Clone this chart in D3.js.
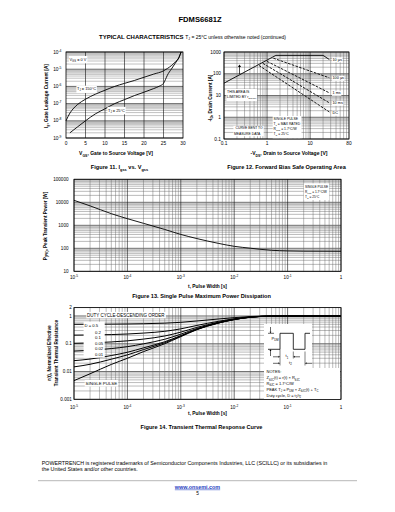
<!DOCTYPE html>
<html><head><meta charset="utf-8">
<script src="https://cdn.jsdelivr.net/npm/d3@7"></script>
<style>body{margin:0;background:#fff}svg{display:block;font-family:"Liberation Sans",Arial,Helvetica,sans-serif}</style>
</head><body><script>
// ---------- DATA ----------
// Figure 11: Igss vs Vgss
const f11Vgs150 = [0, 1, 2, 3, 5, 7.5, 10, 12.5, 15, 17.5, 20, 22.5, 25, 26, 27, 28, 29, 29.5];
const f11Ig150  = [1.0e-8, 2.8e-8, 5.5e-8, 9e-8, 1.8e-7, 3.5e-7, 6e-7, 1e-6, 1.5e-6, 2.2e-6, 3.4e-6, 5.2e-6, 8e-6, 1.1e-5, 1.6e-5, 2.6e-5, 5e-5, 1e-4];
const f11Vgs25  = [1, 2, 3, 5, 7.5, 10, 12.5, 15, 17.5, 20, 22.5, 24, 25, 25.5, 26, 27, 28, 29, 29.5];
const f11Ig25   = [2e-9, 3e-9, 4.5e-9, 1e-8, 2.5e-8, 5e-8, 1e-7, 1.7e-7, 2.9e-7, 4.6e-7, 7.5e-7, 1.05e-6, 1.5e-6, 2.5e-6, 4.5e-6, 1e-5, 2.2e-5, 5e-5, 1e-4];
const f11XTicks = [0, 5, 10, 15, 20, 25, 30];
const f11YTicks = [1e-9, 1e-8, 1e-7, 1e-6, 1e-5, 1e-4];
const f11YTickExp = ["-9", "-8", "-7", "-6", "-5", "-4"];

// Figure 12: Forward bias SOA
const f12Labels = ["10 \u00b5s", "100 \u00b5s", "1 ms", "10 ms", "DC"];
const f12V = [[0.1, 1.6, 20, 28], [1.4, 28], [1.0, 28], [0.8, 28], [0.65, 28]];
const f12I = [[37, 700, 700, 450], [520, 65], [370, 13.2], [300, 4.6], [240, 1.75]];
const f12XTicks = [0.1, 1, 10, 80];
const f12XTickText = ["0.1", "1", "10", "80"];
const f12YTicks = [0.1, 1, 10, 100, 1000];
const f12YTickText = ["0.1", "1", "10", "100", "1000"];

// Figure 13: single pulse max power
const f13T = [1e-5, 2e-5, 5e-5, 1e-4, 2e-4, 5e-4, 1e-3, 2e-3, 5e-3, 1e-2, 2e-2, 3e-2, 5e-2, 1e-1, 2e-1, 1];
const f13P = [12200, 7000, 3200, 1940, 1220, 660, 400, 265, 165, 122, 101, 91, 82, 77, 75, 74];
const f13XTicks = [1e-5, 1e-4, 1e-3, 1e-2, 1e-1, 1];
const f13XTickExp = ["-5", "-4", "-3", "-2", "-1", null];
const f13YTicks = [10, 100, 1000, 10000, 100000];
const f13YTickText = ["10", "100", "1000", "10000", "100000"];

// Figure 14: transient thermal response
const f14T = [1e-5, 2e-5, 5e-5, 1e-4, 2e-4, 5e-4, 1e-3, 2e-3, 5e-3, 1e-2, 2e-2, 5e-2, 1e-1, 1];
const f14Names = ["D = 0.5", "0.2", "0.1", "0.05", "0.02", "0.01", "SINGLE PULSE"];
const f14D05   = [0.502, 0.504, 0.509, 0.515, 0.526, 0.55, 0.59, 0.66, 0.775, 0.87, 0.95, 0.995, 1.0, 1.0];
const f14D02   = [0.204, 0.207, 0.214, 0.224, 0.242, 0.28, 0.344, 0.456, 0.64, 0.792, 0.92, 0.992, 1.0, 1.0];
const f14D01   = [0.104, 0.107, 0.116, 0.127, 0.147, 0.19, 0.262, 0.388, 0.595, 0.766, 0.91, 0.991, 1.0, 1.0];
const f14D005  = [0.0545, 0.0579, 0.0671, 0.0785, 0.0994, 0.145, 0.221, 0.354, 0.5725, 0.753, 0.905, 0.99, 1.0, 1.0];
const f14D002  = [0.0246, 0.0281, 0.0376, 0.0494, 0.071, 0.118, 0.196, 0.334, 0.559, 0.745, 0.902, 0.99, 1.0, 1.0];
const f14D001  = [0.0147, 0.0182, 0.0278, 0.0397, 0.0615, 0.109, 0.188, 0.327, 0.5545, 0.743, 0.901, 0.99, 1.0, 1.0];
const f14Single= [0.0047, 0.0083, 0.018, 0.030, 0.052, 0.10, 0.18, 0.32, 0.55, 0.74, 0.90, 0.99, 1.0, 1.0];
const f14YTicks = [0.001, 0.01, 0.1, 1, 2];
const f14YTickText = ["0.001", "0.01", "0.1", "1", "2"];

// ---------- HELPERS ----------
const W = 395, H = 512;
const svg = d3.select("body").append("svg").attr("width", W).attr("height", H);
svg.append("rect").attr("width", W).attr("height", H).attr("fill", "#fff");

function rich(sel, parts, size) {
  let shift = 0;
  parts.forEach(p => {
    const s = typeof p === "string" ? p : p[0];
    const t = typeof p === "string" ? "" : p[1];
    const target = t === "sub" ? size * 0.3 : t === "sup" ? -size * 0.42 : 0;
    const ts = sel.append("tspan").text(s);
    if (target - shift !== 0) ts.attr("dy", target - shift);
    if (t) ts.attr("font-size", size * 0.7);
    shift = target;
  });
  return sel;
}
function txt(g, x, y, parts, size, opts = {}) {
  const t = g.append("text").attr("x", x).attr("y", y).attr("font-size", size)
    .attr("fill", opts.fill || "#000").attr("text-anchor", opts.anchor || "start");
  if (opts.bold) t.attr("font-weight", "bold");
  if (opts.rotate) t.attr("transform", `rotate(-90,${x},${y})`);
  rich(t, typeof parts === "string" ? [parts] : parts, size);
  return t;
}
function whiteBox(g, pad = 0.6) {
  const b = g.node().getBBox();
  g.insert("rect", ":first-child").attr("x", b.x - pad).attr("y", b.y - pad)
    .attr("width", b.width + 2 * pad).attr("height", b.height + 2 * pad).attr("fill", "#fff");
}
function logGrid(g, x, y, xLog, yLog) {
  const [xa, xb] = x.range(), [ya, yb] = y.range();
  const isMajor = v => Math.abs(Math.log10(v) - Math.round(Math.log10(v))) < 1e-6;
  if (yLog) y.ticks().forEach(v => {
    g.append("line").attr("x1", xa).attr("x2", xb).attr("y1", y(v)).attr("y2", y(v))
      .attr("stroke", isMajor(v) ? "#111" : "#666").attr("stroke-width", isMajor(v) ? 0.6 : 0.45);
  });
  if (xLog) x.ticks().forEach(v => {
    g.append("line").attr("y1", ya).attr("y2", yb).attr("x1", x(v)).attr("x2", x(v))
      .attr("stroke", isMajor(v) ? "#111" : "#666").attr("stroke-width", isMajor(v) ? 0.6 : 0.45);
  });
  g.append("rect").attr("x", xa).attr("y", yb).attr("width", xb - xa).attr("height", ya - yb)
    .attr("fill", "none").attr("stroke", "#000").attr("stroke-width", 0.8);
}
function curve(g, x, y, xs, ys, w = 0.9, dash = null, straight = false) {
  const ln = d3.line().x(d => x(d[0])).y(d => y(d[1]));
  if (!straight) ln.curve(d3.curveMonotoneX);
  const p = g.append("path").datum(xs.map((v, i) => [v, ys[i]]))
    .attr("d", ln).attr("fill", "none").attr("stroke", "#000").attr("stroke-width", w);
  if (dash) p.attr("stroke-dasharray", dash);
  return p;
}
function arrowHead(g, x, y, dir, s = 1.6) {
  let pts;
  if (dir === "down") pts = [[x, y], [x - s * 0.6, y - s], [x + s * 0.6, y - s]];
  if (dir === "up") pts = [[x, y], [x - s * 0.6, y + s], [x + s * 0.6, y + s]];
  if (dir === "right") pts = [[x, y], [x - s, y - s * 0.6], [x - s, y + s * 0.6]];
  if (dir === "left") pts = [[x, y], [x + s, y - s * 0.6], [x + s, y + s * 0.6]];
  g.append("path").attr("d", "M" + pts.join("L") + "Z").attr("fill", "#000");
}
function seg(g, x1, y1, x2, y2, w = 0.6) {
  g.append("line").attr("x1", x1).attr("y1", y1).attr("x2", x2).attr("y2", y2)
    .attr("stroke", "#000").attr("stroke-width", w);
}

// ---------- HEADER ----------
txt(svg, 200, 21.8, "FDMS6681Z", 7.6, { bold: true, anchor: "middle" });
const hdr = svg.append("text").attr("x", 99).attr("y", 39.2);
hdr.append("tspan").attr("font-size", 6).attr("font-weight", "bold").text("TYPICAL CHARACTERISTICS ");
hdr.append("tspan").attr("font-size", 5).text("T");
hdr.append("tspan").attr("font-size", 3.5).attr("dy", 1).text("J");
hdr.append("tspan").attr("font-size", 5).attr("dy", -1).text(" = 25\u00b0C unless otherwise noted (continued)");

// ---------- FIGURE 11 ----------
{
  const g = svg.append("g");
  const x = d3.scaleLinear().domain([0, 30]).range([66, 183]);
  const y = d3.scaleLog().domain([1e-9, 1e-4]).range([138, 52]);
  const gridG = g.append("g");
  y.ticks().forEach(v => {
    const maj = Math.abs(Math.log10(v) - Math.round(Math.log10(v))) < 1e-6;
    gridG.append("line").attr("x1", 66).attr("x2", 183).attr("y1", y(v)).attr("y2", y(v))
      .attr("stroke", maj ? "#111" : "#777").attr("stroke-width", maj ? 0.6 : 0.45);
  });
  f11XTicks.slice(1, -1).forEach(v => gridG.append("line").attr("x1", x(v)).attr("x2", x(v))
    .attr("y1", 52).attr("y2", 138).attr("stroke", "#111").attr("stroke-width", 0.6));
  gridG.append("rect").attr("x", 66).attr("y", 52).attr("width", 117).attr("height", 86)
    .attr("fill", "none").attr("stroke", "#000").attr("stroke-width", 0.8);
  curve(g, x, y, f11Vgs150, f11Ig150, 0.9);
  curve(g, x, y, f11Vgs25, f11Ig25, 0.9);
  let a = g.append("g"); txt(a, 69.5, 60.6, ["V", ["GS", "sub"], " = 0 V"], 3.9); whiteBox(a);
  a = g.append("g"); txt(a, 77, 90.3, ["T", ["J", "sub"], " = 150\u00b0C"], 3.9); whiteBox(a);
  a = g.append("g"); txt(a, 108, 111.5, ["T", ["J", "sub"], " = 25\u00b0C"], 3.9); whiteBox(a);
  f11XTicks.forEach(v => txt(g, x(v), 145.2, String(v), 4.8, { anchor: "middle" }));
  f11YTicks.forEach((v, i) => txt(g, 61.5, y(v) + 1.6, ["10", [f11YTickExp[i], "sup"]], 4.8, { anchor: "end" }));
  txt(g, 116, 155.3, ["V", ["GS", "sub"], ", Gate to Source Voltage [V]"], 5, { bold: true, anchor: "middle" });
  txt(g, 47.5, 96, ["I", ["g", "sub"], ", Gate Leakage Current [A]"], 4.8, { bold: true, anchor: "middle", rotate: true });
  txt(g, 119.5, 169, ["Figure 11. I", ["gss", "sub"], " vs. V", ["gss", "sub"]], 5.6, { bold: true, anchor: "middle" });
}

// ---------- FIGURE 12 ----------
{
  const g = svg.append("g");
  const x = d3.scaleLog().domain([0.1, 80]).range([224, 349]);
  const y = d3.scaleLog().domain([0.1, 1000]).range([139, 52]);
  logGrid(g.append("g"), x, y, true, true);
  f12V.forEach((vs, i) => curve(g, x, y, vs, f12I[i], 0.9, i === 0 ? null : "2.6,1.3", true));
  const labY = [60.8, 79.3, 94.3, 104.3, 114.2];
  f12Labels.forEach((l, i) => { const a = g.append("g"); txt(a, 332.5, labY[i], l, 3.8); whiteBox(a, 0.5); });
  seg(g, 239.5, 74, 239.5, 67, 0.7); arrowHead(g, 239.5, 64.5, "up", 2.6);
  let a = g.append("g");
  txt(a, 227, 92.6, "THIS AREA IS", 3.5);
  txt(a, 227, 98.4, ["LIMITED BY r", ["DS(on)", "sub"]], 3.5);
  whiteBox(a, 0.6);
  a = g.append("g");
  txt(a, 273.5, 119.8, "SINGLE PULSE", 3.4);
  txt(a, 273.5, 124.8, ["T", ["J", "sub"], " = MAX RATED"], 3.4);
  txt(a, 273.5, 130.2, ["R", ["\u03b8JC", "sub"], " = 1.7\u00b0C/W"], 3.4);
  txt(a, 273.5, 135.4, ["T", ["C", "sub"], " = 25\u00b0C"], 3.4);
  whiteBox(a, 0.8);
  a = g.append("g");
  txt(a, 235.5, 129.4, "CURVE BENT TO", 3.4);
  txt(a, 234, 134.6, "MEASURE DATA", 3.4);
  whiteBox(a, 0.6);
  f12XTicks.forEach((v, i) => txt(g, x(v), 145.2, f12XTickText[i], 4.8, { anchor: "middle" }));
  f12YTicks.forEach((v, i) => txt(g, 221, y(v) + 1.7, f12YTickText[i], 4.8, { anchor: "end" }));
  txt(g, 289, 155.3, ["-V", ["DS", "sub"], ", Drain to Source Voltage [V]"], 5, { bold: true, anchor: "middle" });
  txt(g, 211.5, 98, ["-I", ["D", "sub"], ", Drain Current [A]"], 4.8, { bold: true, anchor: "middle", rotate: true });
  txt(g, 286.5, 169, "Figure 12. Forward Bias Safe Operating Area", 5.6, { bold: true, anchor: "middle" });
}

// ---------- FIGURE 13 ----------
{
  const g = svg.append("g");
  const x = d3.scaleLog().domain([1e-5, 1]).range([74, 341]);
  const y = d3.scaleLog().domain([10, 100000]).range([271.3, 179.3]);
  logGrid(g.append("g"), x, y, true, true);
  curve(g, x, y, f13T, f13P, 0.9);
  const a = g.append("g");
  txt(a, 305, 187.5, "SINGLE PULSE", 3.2);
  txt(a, 305, 192.6, ["R", ["\u03b8JC", "sub"], " = 1.7\u00b0C/W"], 3.2);
  txt(a, 305, 197.8, ["T", ["C", "sub"], " = 25\u00b0C"], 3.2);
  whiteBox(a, 1.2);
  f13XTicks.forEach((v, i) => txt(g, x(v), 279, f13XTickExp[i] ? ["10", [f13XTickExp[i], "sup"]] : "1", 4.6, { anchor: "middle" }));
  f13YTicks.forEach((v, i) => txt(g, 68.5, y(v) + 1.6, f13YTickText[i], 4.6, { anchor: "end" }));
  txt(g, 207.5, 287.5, "t, Pulse Width [s]", 4.8, { bold: true, anchor: "middle" });
  txt(g, 47, 226, ["P", ["(PK)", "sub"], ", Peak Transient Power [W]"], 4.6, { bold: true, anchor: "middle", rotate: true });
  txt(g, 201.5, 297.5, "Figure 13. Single Pulse Maximum Power Dissipation", 5.6, { bold: true, anchor: "middle" });
}

// ---------- FIGURE 14 ----------
{
  const g = svg.append("g");
  const x = d3.scaleLog().domain([1e-5, 1]).range([74, 341]);
  const y = d3.scaleLog().domain([0.001, 2]).range([399.3, 307.6]);
  logGrid(g.append("g"), x, y, true, true);
  const series = [f14D05, f14D02, f14D01, f14D005, f14D002, f14D001, f14Single];
  series.forEach(s => curve(g, x, y, f14T, s, 1.0));
  let a = g.append("g");
  txt(a, 87, 316.6, "DUTY CYCLE-DESCENDING ORDER", 4.5); whiteBox(a, 0.7);
  a = g.append("g");
  const dY = [326.6, 333.8, 339.3, 344.8, 350.3, 355.8];
  f14Names.slice(0, 6).forEach((n, i) => txt(a, i === 0 ? 84.5 : 95, dY[i], n, 4.2));
  whiteBox(a, 0.9);
  a = g.append("g");
  txt(a, 85.5, 384.8, "SINGLE PULSE", 4.4); whiteBox(a, 0.8);
  const ins = g.append("g");
  ins.append("rect").attr("x", 264).attr("y", 324).attr("width", 48).attr("height", 46).attr("fill", "#fff");
  ins.append("rect").attr("x", 264).attr("y", 368).attr("width", 76).attr("height", 31).attr("fill", "#fff");
  ins.append("path").attr("d", "M268,349.3H280V333.3H293.3V349.3H305V333.3H310")
    .attr("fill", "none").attr("stroke", "#000").attr("stroke-width", 0.8);
  seg(ins, 268, 333.3, 274, 333.3);
  seg(ins, 270.5, 327, 270.5, 332); arrowHead(ins, 270.5, 333.3, "down", 1.6);
  seg(ins, 270.5, 356, 270.5, 351); arrowHead(ins, 270.5, 349.3, "up", 1.6);
  txt(ins, 271.5, 339.6, ["P", ["DM", "sub"]], 4);
  seg(ins, 280, 349.3, 280, 365.5, 0.5);
  seg(ins, 293.3, 351.5, 293.3, 358.5, 0.5);
  seg(ins, 305, 351.5, 305, 365.5, 0.5);
  seg(ins, 273, 356.8, 278.5, 356.8); arrowHead(ins, 280, 356.8, "right", 1.6);
  seg(ins, 300, 356.8, 294.8, 356.8); arrowHead(ins, 293.3, 356.8, "left", 1.6);
  seg(ins, 273, 363.3, 278.5, 363.3); arrowHead(ins, 280, 363.3, "right", 1.6);
  seg(ins, 312, 363.3, 306.5, 363.3); arrowHead(ins, 305, 363.3, "left", 1.6);
  txt(ins, 285.5, 357.3, ["t", ["1", "sub"]], 4);
  txt(ins, 289, 364, ["t", ["2", "sub"]], 4);
  txt(ins, 266.5, 373.2, "NOTES:", 4);
  txt(ins, 266.5, 379.4, ["Z", ["\u03b8JC", "sub"], "(t) = r(t) \u00d7 R", ["\u03b8JC", "sub"]], 4);
  txt(ins, 266.5, 385, ["R", ["\u03b8JC", "sub"], " = 1.7\u00b0C/W"], 4);
  txt(ins, 266.5, 390.8, ["PEAK T", ["J", "sub"], " = P", ["DM", "sub"], " \u00d7 Z", ["\u03b8JC", "sub"], "(t) + T", ["C", "sub"]], 4);
  txt(ins, 266.5, 396.6, ["Duty cycle, D = t", ["1", "sub"], "/t", ["2", "sub"]], 4);
  f13XTicks.forEach((v, i) => txt(g, x(v), 409.3, f13XTickExp[i] ? ["10", [f13XTickExp[i], "sup"]] : "1", 4.6, { anchor: "middle" }));
  f14YTicks.forEach((v, i) => txt(g, 71.8, y(v) + 1.6, f14YTickText[i], 4.6, { anchor: "end" }));
  txt(g, 207.5, 415.3, "t, Pulse Width [s]", 4.8, { bold: true, anchor: "middle" });
  txt(g, 50.5, 353, "r(t), Normalized Effective", 4.7, { bold: true, anchor: "middle", rotate: true });
  txt(g, 57.5, 353, "Transient Thermal Resistance", 4.7, { bold: true, anchor: "middle", rotate: true });
  txt(g, 201.5, 428.5, "Figure 14. Transient Thermal Response Curve", 5.6, { bold: true, anchor: "middle" });
}

// ---------- FOOTER ----------
txt(svg, 41.7, 464.6, "POWERTRENCH is registered trademarks of Semiconductor Components Industries, LLC (SCILLC) or its subsidiaries in", 5.35);
txt(svg, 41.7, 471.2, "the United States and/or other countries.", 5.35);
svg.append("line").attr("x1", 38).attr("x2", 357).attr("y1", 480.7).attr("y2", 480.7).attr("stroke", "#999").attr("stroke-width", 0.7);
txt(svg, 197.5, 488.6, "www.onsemi.com", 5.4, { bold: true, anchor: "middle", fill: "#1f3fbf" }).attr("text-decoration", "underline");
txt(svg, 197.5, 494.6, "5", 4.8, { anchor: "middle" });
</script></body></html>
